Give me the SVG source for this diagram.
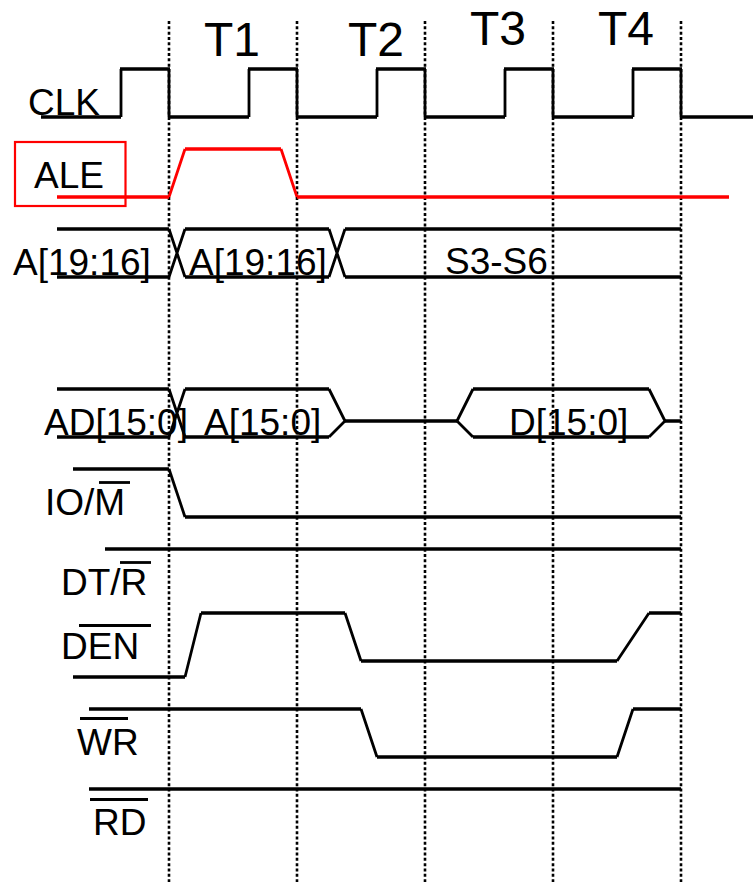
<svg xmlns="http://www.w3.org/2000/svg" width="753" height="882" viewBox="0 0 753 882">
<style>
text{font-family:"Liberation Sans",Arial,sans-serif;font-size:37px;fill:#000}
.t{font-size:48px}
.g{stroke:#000;stroke-width:2.600;stroke-dasharray:3 2.330;fill:none}
.h{stroke:#000;stroke-width:3.700;fill:none}
.v{stroke:#000;stroke-width:2.800;fill:none}
.rh{stroke:#f00;stroke-width:3.700;fill:none}
.rv{stroke:#f00;stroke-width:2.800;fill:none}
.b{stroke:#000;stroke-width:2.800;fill:none}
</style>
<rect width="753" height="882" fill="#fff"/>
<g id="grid">
<path class="g" d="M169 21V882M297 21V882M425 21V882M553 21V882M681 21V882"/>
</g>
<g id="connectors">
<path class="h" d="M41 117H121M120 69H170M169 117H249M248 69H298M297 117H377M376 69H426M425 117H505M504 69H554M553 117H633M632 69H682M681 117H753"/>
<path class="v" d="M121 117V69M169 69V117M249 117V69M297 69V117M377 117V69M425 69V117M505 117V69M553 69V117M633 117V69M681 69V117"/>
<path class="rh" d="M57 197H169M185 149H281M297 197H729"/>
<path class="rv" d="M169 197L185 149M281 149L297 197"/>
<path class="h" d="M57 229H169M185 229H329M345 229H681M57 277H169M185 277H329M345 277H681"/>
<path class="v" d="M169 229L185 277M329 277L345 229M169 277L185 229M329 229L345 277"/>
<path class="h" d="M57 389H169M185 389H329M473 389H649M57 437H169M185 437H329M473 437H649M345 421H457M665 421H681"/>
<path class="v" d="M169 389L185 437M169 437L185 389M329 389L345 421L329 437M457 421L473 389M457 421L473 437M649 389L665 421L649 437"/>
<path class="h" d="M73 469H169M185 517H681"/>
<path class="v" d="M169 469L185 517"/>
<path class="h" d="M105 549H681"/>
<path class="h" d="M73 677H185M201 613H345M361 661H617M649 613H681"/>
<path class="v" d="M185 677L201 613M345 613L361 661M617 661L649 613"/>
<path class="h" d="M89 709H361M377 757H617M633 709H681"/>
<path class="v" d="M361 709L377 757M617 757L633 709"/>
<path class="h" d="M89 789H681"/>
</g>
<g id="T1"><text class="t" x="204" y="56">T1</text></g>
<g id="T2"><text class="t" x="348" y="56">T2</text></g>
<g id="T3"><text class="t" x="470" y="45">T3</text></g>
<g id="T4"><text class="t" x="598" y="45">T4</text></g>
<g id="CLK"><text x="28" y="115">CLK</text></g>
<g id="ALE"><rect x="15" y="142" width="110.500" height="64" fill="none" stroke="#f00" stroke-width="2.200"/><text x="34" y="188">ALE</text></g>
<g id="A1916-label"><text x="13" y="275">A[19:16]</text></g>
<g id="A1916-value"><text x="189" y="275">A[19:16]</text></g>
<g id="S3S6"><text x="445" y="274">S3-S6</text></g>
<g id="AD150-label"><text x="44" y="435">AD[15:0]</text></g>
<g id="A150-value"><text x="204" y="435">A[15:0]</text></g>
<g id="D150-value"><text x="509" y="435">D[15:0]</text></g>
<g id="IOM"><text x="45" y="515">IO/M</text><path class="b" d="M99 482.500H130"/></g>
<g id="DTR"><text x="61" y="595">DT/R</text><path class="b" d="M120 562.500H151"/></g>
<g id="DEN"><text x="61" y="659">DEN</text><path class="b" d="M79 625.500H151"/></g>
<g id="WR"><text x="77" y="755">WR</text><path class="b" d="M80 718.500H128"/></g>
<g id="RD"><text x="93" y="835">RD</text><path class="b" d="M90 799.500H148"/></g>
</svg>
